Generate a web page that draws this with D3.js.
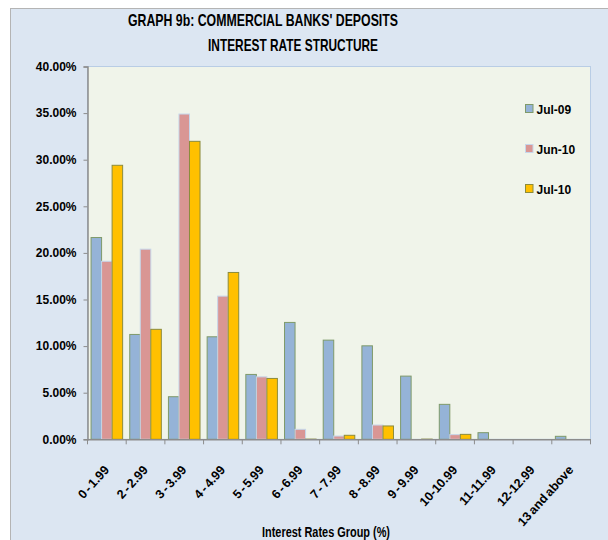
<!DOCTYPE html>
<html>
<head>
<meta charset="utf-8">
<script src="https://cdn.jsdelivr.net/npm/d3@7"></script>
<style>
  html, body { margin: 0; padding: 0; background: #ffffff; }
  svg { display: block; }
  text { font-family: "Liberation Sans", Arial, sans-serif; font-weight: bold; fill: #000; }
  .narrow { font-family: "Liberation Sans Narrow", "Arial Narrow", "Liberation Sans", sans-serif; }
</style>
</head>
<body>
<svg id="chart" width="608" height="540"></svg>
<script>
// Interest rate groups (x categories)
const categories = ["0 - 1.99", "2 - 2.99", "3 - 3.99", "4 - 4.99", "5 - 5.99", "6 - 6.99",
  "7 - 7.99", "8 - 8.99", "9 - 9.99", "10-10.99", "11-11.99", "12-12.99", "13 and above"];

// Share of deposits in each group (%)
const jul09 = [21.65, 11.25, 4.57, 11.0, 6.96, 12.54, 10.64, 10.03, 6.78, 3.75, 0.71, 0.0, 0.32];
const jun10 = [19.1, 20.4, 34.9, 15.36, 6.7, 1.07, 0.35, 1.53, 0.0, 0.5, 0.0, 0.0, 0.0];
const jul10 = [29.4, 11.8, 31.97, 17.9, 6.53, 0.02, 0.43, 1.43, 0.02, 0.53, 0.0, 0.0, 0.0];

const seriesNames = ["Jul-09", "Jun-10", "Jul-10"];
const yTicks = [0, 5, 10, 15, 20, 25, 30, 35, 40];

const series = [
  { name: seriesNames[0], values: jul09, fill: "#95b3d7", stroke: "#7f9a6a" },
  { name: seriesNames[1], values: jun10, fill: "#d99694", stroke: "#c6d6ea" },
  { name: seriesNames[2], values: jul10, fill: "#ffc000", stroke: "#8c8c3c" }
];

const svg = d3.select("#chart");

// chart background
svg.append("rect")
  .attr("x", 10.5).attr("y", 8.5).attr("width", 608).attr("height", 540)
  .attr("fill", "#dce6f2").attr("stroke", "#b4b4b4");

const plot = { left: 87.5, right: 590.5, top: 66.5, bottom: 439.3 };

// plot area
svg.append("rect")
  .attr("x", plot.left).attr("y", plot.top)
  .attr("width", plot.right - plot.left).attr("height", plot.bottom - plot.top)
  .attr("fill", "#f0f4ea").attr("stroke", "#b9cde5").attr("stroke-width", 1);

const x0 = d3.scaleBand().domain(categories).range([plot.left, plot.right]).padding(0);
const x1 = d3.scaleBand().domain(seriesNames)
  .range([x0.bandwidth() * 0.092, x0.bandwidth() * 0.908]).padding(0);
const y = d3.scaleLinear().domain([0, 40]).range([plot.bottom, plot.top]);

// bars
series.forEach(s => {
  svg.append("g").selectAll("rect")
    .data(s.values)
    .join("rect")
    .attr("x", (d, i) => x0(categories[i]) + x1(s.name))
    .attr("y", d => y(d))
    .attr("width", x1.bandwidth())
    .attr("height", d => Math.max(0, y(0) - y(d)))
    .attr("fill", s.fill)
    .attr("stroke", s.stroke)
    .attr("stroke-width", 1);
});

// y axis
const yAxis = svg.append("g")
  .attr("transform", `translate(${plot.left},0)`)
  .call(d3.axisLeft(y).tickValues(yTicks).tickSize(4).tickPadding(7)
    .tickFormat(d => d.toFixed(2) + "%"));
yAxis.select(".domain").attr("stroke", "#8c8c8c").attr("stroke-width", 1.5);
yAxis.selectAll(".tick line").attr("stroke", "#8c8c8c");
yAxis.selectAll(".tick text").style("font-size", "12px")
  .style("font-family", "'Liberation Sans', Arial, sans-serif").style("font-weight", "bold");

// x axis
const xAxis = svg.append("g")
  .attr("transform", `translate(0,${plot.bottom})`)
  .call(d3.axisBottom(x0).tickSize(0).tickFormat(""));
xAxis.select(".domain").attr("stroke", "#8c8c8c").attr("stroke-width", 1.5);

// category boundary ticks
svg.append("g").selectAll("line")
  .data(categories.concat(["__end"]))
  .join("line")
  .attr("x1", (d, i) => i < categories.length ? x0(d) : plot.right)
  .attr("x2", (d, i) => i < categories.length ? x0(d) : plot.right)
  .attr("y1", plot.bottom).attr("y2", plot.bottom + 5)
  .attr("stroke", "#8c8c8c");

// rotated category labels
svg.append("g").selectAll("text")
  .data(categories)
  .join("text")
  .attr("transform", d => `translate(${x0(d) + x0.bandwidth() / 2 + 3},${plot.bottom + 31}) rotate(-48)`)
  .attr("text-anchor", "end")
  .style("font-size", "12.5px")
  .style("word-spacing", "-1.5px")
  .text(d => d);

// titles
svg.append("text").attr("class", "narrow")
  .attr("x", 263).attr("y", 26).attr("text-anchor", "middle")
  .style("font-size", "17px")
  .attr("textLength", 270).attr("lengthAdjust", "spacingAndGlyphs")
  .text("GRAPH 9b:  COMMERCIAL BANKS'  DEPOSITS");
svg.append("text").attr("class", "narrow")
  .attr("x", 293).attr("y", 51).attr("text-anchor", "middle")
  .style("font-size", "17px")
  .attr("textLength", 170).attr("lengthAdjust", "spacingAndGlyphs")
  .text("INTEREST RATE STRUCTURE");

svg.append("text").attr("class", "narrow")
  .attr("x", 326).attr("y", 537).attr("text-anchor", "middle")
  .style("font-size", "14px")
  .attr("textLength", 128).attr("lengthAdjust", "spacingAndGlyphs")
  .text("Interest Rates Group (%)");

// legend
const legend = svg.append("g").selectAll("g")
  .data(series)
  .join("g")
  .attr("transform", (d, i) => `translate(525.5,${104.5 + i * 40})`);
legend.append("rect")
  .attr("width", 7.5).attr("height", 8)
  .attr("fill", d => d.fill).attr("stroke", d => d.stroke);
legend.append("text")
  .attr("x", 11).attr("y", 9)
  .style("font-size", "12px")
  .text(d => d.name);
</script>
</body>
</html>
